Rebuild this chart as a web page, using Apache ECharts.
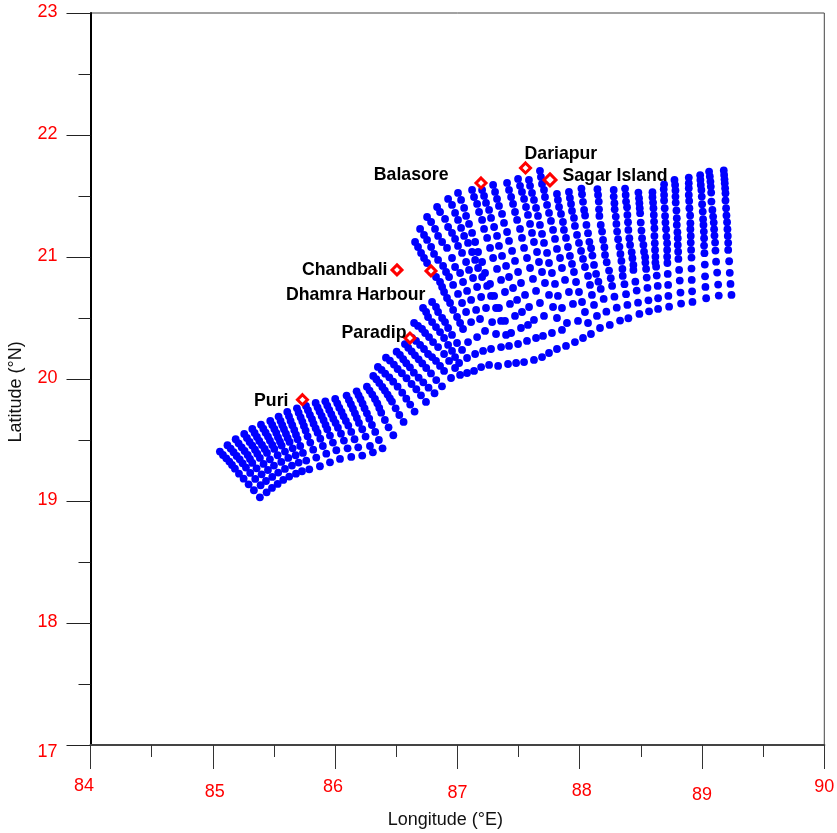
<!DOCTYPE html>
<html><head><meta charset="utf-8">
<style>html,body{margin:0;padding:0;background:#fff}#c{width:837px;height:833px}</style>
<script src="https://cdn.jsdelivr.net/npm/echarts@6/dist/echarts.min.js"></script>
</head><body><div id="c"></div>
<script>
const xTickLabels=[84,85,86,87,88,89,90];
const yTickLabels=[17,18,19,20,21,22,23];
// south-western block: each entry = [longitudes],[latitudes] of one grid column
const westColumns=[
[[85.058,85.083,85.110,85.135,85.157,85.181,85.214,85.252,85.293,85.336,85.385],[19.405,19.377,19.350,19.323,19.295,19.265,19.224,19.183,19.137,19.088,19.030]],
[[85.12,85.146,85.17,85.195,85.22,85.244,85.271,85.306,85.347,85.391,85.44],[19.457,19.43,19.40,19.369,19.342,19.309,19.274,19.23,19.181,19.129,19.071]],
[[85.187,85.211,85.236,85.26,85.285,85.304,85.323,85.358,85.399,85.435,85.484],[19.506,19.473,19.44,19.41,19.377,19.345,19.312,19.268,19.219,19.164,19.107]],
[[85.257,85.279,85.301,85.323,85.345,85.364,85.385,85.415,85.451,85.486,85.53],[19.55,19.517,19.484,19.454,19.421,19.388,19.353,19.304,19.254,19.197,19.14]],
[[85.323,85.342,85.361,85.38,85.402,85.424,85.443,85.467,85.5,85.535,85.576],[19.59,19.558,19.525,19.492,19.459,19.427,19.394,19.342,19.29,19.233,19.173]],
[[85.394,85.413,85.432,85.451,85.467,85.486,85.503,85.53,85.56,85.59,85.625],[19.626,19.593,19.56,19.528,19.495,19.459,19.427,19.375,19.32,19.263,19.2]],
[[85.47,85.486,85.503,85.519,85.533,85.549,85.563,85.59,85.617,85.647,85.68],[19.656,19.623,19.59,19.558,19.522,19.487,19.454,19.405,19.353,19.29,19.224]],
[[85.538,85.554,85.568,85.582,85.598,85.612,85.628,85.653,85.677,85.702,85.729],[19.692,19.656,19.621,19.588,19.552,19.517,19.484,19.432,19.375,19.315,19.244]],
[[85.609,85.623,85.636,85.65,85.666,85.68,85.693,85.715,85.737,85.764,85.789],[19.73,19.694,19.656,19.621,19.582,19.544,19.506,19.451,19.394,19.331,19.26]],
[[85.688,85.702,85.718,85.732,85.745,85.759,85.775,85.797,85.821,85.846,85.876],[19.76,19.724,19.686,19.651,19.615,19.577,19.53,19.479,19.421,19.356,19.285]],
[[85.762,85.778,85.794,85.811,85.824,85.841,85.857,85.879,85.9,85.928,85.958],[19.779,19.744,19.705,19.67,19.634,19.596,19.56,19.511,19.451,19.388,19.317]],
[[85.841,85.857,85.873,85.89,85.906,85.922,85.936,85.958,85.982,86.01,86.04],[19.804,19.768,19.733,19.697,19.662,19.623,19.588,19.536,19.479,19.416,19.345]],
[[85.92,85.936,85.952,85.969,85.985,86.004,86.023,86.048,86.072,86.102,86.132],[19.817,19.782,19.746,19.711,19.675,19.64,19.601,19.552,19.495,19.432,19.361]],
[[86.001,86.018,86.034,86.053,86.069,86.088,86.108,86.132,86.159,86.189,86.222],[19.836,19.801,19.765,19.73,19.694,19.656,19.618,19.566,19.506,19.44,19.372]],
[[86.094,86.113,86.129,86.146,86.162,86.178,86.195,86.222,86.249,86.285,86.309],[19.864,19.828,19.793,19.757,19.719,19.681,19.64,19.588,19.528,19.451,19.399]],
[[86.176,86.192,86.208,86.225,86.241,86.26,86.279,86.301,86.328,86.358,86.388],[19.899,19.866,19.834,19.798,19.76,19.719,19.675,19.623,19.566,19.5,19.432]]
];
// middle fan of short columns
const middleColumns=[
[[86.26,86.282,86.304,86.326,86.345,86.361,86.377,86.407,86.437,86.476],[19.937,19.905,19.872,19.836,19.801,19.763,19.724,19.664,19.604,19.539]],
[[86.312,86.337,86.361,86.386,86.407,86.429,86.448,86.465,86.495,86.525,86.56],[20.025,19.998,19.968,19.935,19.905,19.872,19.842,19.815,19.76,19.705,19.648]],
[[86.65,86.614,86.582,86.549,86.511,86.475,86.443,86.41,86.38,86.35],[19.733,19.79,19.839,19.888,19.937,19.978,20.014,20.044,20.074,20.099]],
[[86.743,86.702,86.664,86.625,86.584,86.546,86.511,86.481,86.448,86.416],[19.812,19.866,19.916,19.959,20.006,20.047,20.082,20.118,20.151,20.175]],
[[86.813,86.764,86.721,86.683,86.644,86.612,86.582,86.557,86.53,86.503],[19.883,19.929,19.973,20.011,20.052,20.096,20.129,20.162,20.197,20.224]],
[[86.571,86.598,86.626,86.653,86.683,86.713,86.745,86.784,86.827,86.874],[20.286,20.256,20.226,20.194,20.161,20.128,20.09,20.046,19.991,19.94]],
[[86.629,86.662,86.695,86.727,86.76,86.793,86.825,86.858,86.891,86.948],[20.336,20.312,20.279,20.246,20.205,20.18,20.148,20.107,20.066,20.008]],
[[86.646,86.678,86.711,86.736,86.768,86.801,86.842,86.891,86.932,86.981,87.022],[20.459,20.435,20.41,20.377,20.344,20.303,20.262,20.205,20.148,20.09,20.033]],
[[86.719,86.744,86.76,86.793,86.825,86.858,86.891,86.924,86.956,86.981,87.014,87.079],[20.582,20.549,20.508,20.467,20.426,20.385,20.336,20.279,20.23,20.18,20.131,20.049]],
[[86.793,86.825,86.842,86.875,86.899,86.924,86.956,86.997,87.038,87.079,87.136],[20.631,20.59,20.549,20.50,20.467,20.418,20.361,20.295,20.238,20.172,20.066]]
];
// northern block, long columns, west to east
const northColumns=[
[[86.654,86.678,86.703,86.727,86.752,86.785,86.825,86.858,86.875,86.891,86.915,86.94,86.965,86.997,87.022,87.046,87.087,87.145,87.194],[21.123,21.082,21.033,20.992,20.951,20.877,20.836,20.795,20.754,20.713,20.664,20.623,20.566,20.508,20.459,20.41,20.303,20.205,20.098]],
[[86.695,86.727,86.752,86.785,86.809,86.842,86.883,86.907,86.932,86.965,87.005,87.038,87.071,87.112,87.161,87.21,87.259],[21.23,21.181,21.14,21.082,21.025,20.976,20.927,20.877,20.836,20.771,20.697,20.623,20.549,20.467,20.344,20.23,20.115]],
[[86.752,86.785,86.817,86.842,86.875,86.915,86.956,86.981,87.022,87.046,87.079,87.112,87.153,87.185,87.226,87.275,87.333],[21.328,21.287,21.23,21.173,21.123,21.074,20.992,20.918,20.869,20.795,20.722,20.648,20.566,20.492,20.394,20.246,20.107]],
[[86.834,86.858,86.899,86.924,86.956,86.981,87.005,87.038,87.071,87.095,87.128,87.161,87.194,87.234,87.284,87.316,87.357,87.414],[21.41,21.369,21.312,21.246,21.197,21.148,21.091,21.033,20.959,20.894,20.828,20.754,20.672,20.582,20.467,20.369,20.262,20.123]],
[[86.924,86.956,86.981,87.005,87.03,87.055,87.087,87.12,87.145,87.169,87.202,87.243,87.275,87.316,87.357,87.398,87.422,87.48],[21.476,21.427,21.361,21.304,21.238,21.173,21.115,21.041,20.976,20.91,20.836,20.763,20.681,20.582,20.476,20.361,20.271,20.131]],
[[87.005,87.03,87.055,87.071,87.095,87.12,87.145,87.169,87.202,87.226,87.267,87.30,87.34,87.389,87.439,87.496,87.545],[21.525,21.468,21.402,21.337,21.271,21.197,21.123,21.041,20.959,20.869,20.779,20.681,20.582,20.476,20.377,20.287,20.139]],
[[87.12,87.136,87.161,87.177,87.202,87.218,87.243,87.267,87.292,87.324,87.357,87.389,87.43,87.471,87.52,87.569,87.626],[21.55,21.492,21.435,21.369,21.304,21.23,21.156,21.074,20.992,20.902,20.812,20.713,20.615,20.517,20.418,20.312,20.156]],
[[87.202,87.218,87.234,87.259,87.275,87.30,87.324,87.34,87.365,87.398,87.422,87.455,87.488,87.528,87.577,87.643,87.692],[21.55,21.501,21.443,21.386,21.32,21.246,21.173,21.091,21.009,20.927,20.836,20.746,20.648,20.549,20.443,20.336,20.18]],
[[87.292,87.308,87.324,87.34,87.365,87.381,87.406,87.422,87.447,87.471,87.496,87.52,87.553,87.586,87.626,87.70,87.749],[21.591,21.533,21.476,21.419,21.353,21.279,21.205,21.132,21.05,20.968,20.877,20.787,20.689,20.59,20.484,20.353,20.213]],
[[87.406,87.422,87.439,87.455,87.471,87.488,87.512,87.528,87.545,87.569,87.594,87.618,87.643,87.675,87.708,87.773,87.814],[21.607,21.55,21.492,21.435,21.369,21.304,21.23,21.156,21.074,20.992,20.91,20.82,20.722,20.623,20.517,20.377,20.246]],
[[87.496,87.512,87.528,87.545,87.561,87.577,87.594,87.61,87.626,87.651,87.667,87.692,87.716,87.749,87.782,87.814,87.855,87.888],[21.64,21.583,21.533,21.476,21.41,21.345,21.271,21.197,21.123,21.041,20.959,20.877,20.787,20.689,20.59,20.50,20.402,20.271]],
[[87.585,87.594,87.61,87.626,87.643,87.659,87.675,87.692,87.708,87.733,87.749,87.773,87.798,87.822,87.855,87.896,87.961],[21.632,21.583,21.525,21.468,21.402,21.337,21.263,21.189,21.115,21.033,20.951,20.869,20.779,20.681,20.582,20.459,20.303]],
[[87.675,87.683,87.692,87.708,87.716,87.733,87.749,87.765,87.782,87.798,87.814,87.839,87.855,87.88,87.912,87.945,87.986,88.027],[21.706,21.656,21.599,21.55,21.492,21.427,21.361,21.296,21.222,21.148,21.066,20.992,20.91,20.812,20.713,20.615,20.476,20.336]],
[[87.814,87.822,87.831,87.847,87.863,87.871,87.888,87.904,87.92,87.937,87.953,87.97,87.994,88.019,88.043,88.068,88.092],[21.517,21.468,21.41,21.353,21.287,21.222,21.156,21.082,21.009,20.943,20.877,20.795,20.713,20.631,20.549,20.459,20.369]],
[[87.912,87.92,87.929,87.937,87.953,87.961,87.978,87.994,88.011,88.027,88.043,88.068,88.084,88.10,88.117,88.141,88.166],[21.533,21.484,21.435,21.378,21.32,21.255,21.181,21.115,21.05,20.984,20.918,20.845,20.771,20.689,20.607,20.517,20.418]]
];
// eastern block, long columns, west to east
const eastColumns=[
[[88.014,88.019,88.027,88.036,88.044,88.055,88.068,88.079,88.093,88.104,88.117,88.134,88.153,88.172,88.196,88.218,88.246],[21.561,21.515,21.452,21.386,21.34,21.263,21.195,21.124,21.072,21.012,20.935,20.861,20.798,20.738,20.656,20.552,20.443]],
[[88.145,88.15,88.156,88.158,88.161,88.172,88.183,88.191,88.202,88.207,88.221,88.24,88.254,88.265,88.284,88.303,88.33],[21.556,21.509,21.454,21.391,21.337,21.263,21.208,21.14,21.08,21.017,20.957,20.889,20.826,20.763,20.675,20.585,20.479]],
[[88.278,88.278,88.284,88.286,88.295,88.30,88.306,88.314,88.325,88.333,88.341,88.349,88.352,88.366,88.379,88.39,88.398],[21.55,21.495,21.441,21.391,21.331,21.271,21.208,21.146,21.085,21.025,20.968,20.902,20.845,20.777,20.695,20.607,20.498]],
[[88.371,88.376,88.379,88.387,88.39,88.395,88.398,88.406,88.412,88.425,88.431,88.439,88.439,88.455,88.466,88.477,88.488],[21.561,21.509,21.454,21.408,21.345,21.285,21.222,21.154,21.099,21.039,20.99,20.935,20.894,20.798,20.725,20.626,20.533]],
[[88.48,88.485,88.488,88.491,88.494,88.499,88.505,88.51,88.521,88.526,88.535,88.537,88.543,88.548,88.554,88.562,88.567],[21.528,21.482,21.441,21.40,21.359,21.282,21.217,21.154,21.099,21.044,20.998,20.954,20.902,20.831,20.747,20.645,20.555]],
[[88.595,88.595,88.6,88.603,88.606,88.608,88.611,88.611,88.614,88.616,88.619,88.619,88.625,88.63,88.638,88.641,88.641],[21.531,21.49,21.446,21.40,21.345,21.29,21.236,21.173,21.113,21.058,21.003,20.954,20.921,20.848,20.763,20.662,20.574]],
[[88.69,88.687,88.69,88.69,88.695,88.698,88.701,88.706,88.709,88.715,88.715,88.715,88.717,88.72,88.723,88.725,88.731],[21.596,21.556,21.509,21.463,21.40,21.337,21.282,21.228,21.167,21.113,21.058,21.003,20.951,20.861,20.771,20.681,20.593]],
[[88.775,88.78,88.783,88.783,88.785,88.791,88.794,88.794,88.799,88.802,88.802,88.805,88.807,88.813,88.818,88.824,88.829],[21.632,21.591,21.545,21.495,21.446,21.381,21.318,21.263,21.203,21.154,21.099,21.044,20.984,20.894,20.807,20.708,20.618]],
[[88.892,88.892,88.892,88.892,88.895,88.897,88.903,88.905,88.905,88.908,88.908,88.911,88.914,88.914,88.916,88.919,88.922],[21.651,21.605,21.564,21.509,21.46,21.40,21.34,21.277,21.228,21.173,21.118,21.058,20.995,20.905,20.812,20.719,20.632]],
[[88.985,88.987,88.99,88.995,88.998,89.001,89.006,89.009,89.012,89.015,89.017,89.017,89.02,89.023,89.025,89.028,89.034],[21.67,21.632,21.591,21.55,21.495,21.433,21.372,21.31,21.263,21.208,21.154,21.094,21.031,20.938,20.842,20.755,20.662]],
[[89.058,89.064,89.069,89.072,89.075,89.077,89.085,89.091,89.096,89.099,89.102,89.107,89.11,89.115,89.124,89.132,89.137],[21.70,21.66,21.618,21.577,21.528,21.454,21.386,21.331,21.282,21.228,21.176,21.118,21.053,20.962,20.872,20.774,20.684]],
[[89.178,89.181,89.184,89.186,89.189,89.192,89.192,89.197,89.20,89.205,89.208,89.211,89.214,89.214,89.222,89.227,89.233,89.241],[21.709,21.673,21.637,21.605,21.564,21.523,21.463,21.40,21.34,21.285,21.228,21.173,21.116,21.058,20.965,20.87,20.779,20.689]]
];
const stationNames=["Puri","Paradip","Dhamra Harbour","Chandbali","Balasore","Dariapur","Sagar Island"];
const stationLon=[85.733,86.612,86.784,86.506,87.193,87.557,87.757];
const stationLat=[19.83,20.336,20.886,20.894,21.607,21.73,21.632];

const gridPoints=[];
[westColumns,middleColumns,northColumns,eastColumns].forEach(block=>block.forEach(c=>c[0].forEach((lon,i)=>gridPoints.push([lon,c[1][i]]))));

// label placement, styling only
const labelPlace={
 "Puri":{position:'left',offset:[-7.5,1]},
 "Paradip":{position:'left',offset:[3,-5]},
 "Dhamra Harbour":{position:'left',offset:[1,24]},
 "Chandbali":{position:'left',offset:[-3,0]},
 "Balasore":{position:'left',offset:[-26,-8]},
 "Dariapur":{position:'right',offset:[-7.5,-14]},
 "Sagar Island":{position:'right',offset:[5,-4]}
};
const xNudge={84:{pad:[1,13,0,0]},85:{pad:[7,0,0,4]},86:{pad:[2,4,0,0]},87:{pad:[8,0,0,0]},88:{pad:[6,0,0,4]},89:{pad:[10,0,0,0]},90:{pad:[2,0,0,0]}};
const red='#ff0000', font='"Liberation Sans",Arial,sans-serif';
const xRich={},yRich={};
xTickLabels.forEach(v=>{xRich['k'+v]={color:red,fontSize:18,fontFamily:font,padding:xNudge[v].pad}});
yTickLabels.forEach(v=>{yRich['k'+v]={color:red,fontSize:18,fontFamily:font,padding:v===17?[14,0,0,0]:[0,0,2,0]}});

const chart=echarts.init(document.getElementById('c'),null,{renderer:'canvas'});
chart.setOption({
 animation:false,backgroundColor:'#fff',
 grid:{left:90.5,right:12.7,top:13,bottom:88,outerBoundsMode:'none',show:true,borderColor:'#444',borderWidth:1,backgroundColor:'transparent'},
 xAxis:{type:'value',min:84,max:90,interval:1,position:'bottom',
  name:'Longitude (°E)',nameLocation:'middle',nameGap:66,
  nameTextStyle:{color:'#111',fontSize:18,fontFamily:font,padding:[0,24,0,0]},
  axisLine:{show:true,onZero:false,lineStyle:{color:'#444',width:2}},
  axisTick:{show:true,length:24,lineStyle:{color:'#333',width:1}},
  minorTick:{show:true,splitNumber:2,length:12,lineStyle:{color:'#333',width:1}},
  splitLine:{show:false},minorSplitLine:{show:false},
  axisLabel:{margin:31,verticalAlign:'top',showMinLabel:true,showMaxLabel:true,hideOverlap:false,formatter:v=>`{k${v}|${v}}`,rich:xRich}},
 yAxis:{type:'value',min:17,max:23,interval:1,
  name:'Latitude (°N)',nameLocation:'middle',nameGap:65,
  nameTextStyle:{color:'#111',fontSize:18,fontFamily:font,padding:[0,26,0,0]},
  axisLine:{show:true,onZero:false,lineStyle:{color:'#000',width:2}},
  axisTick:{show:true,length:24,lineStyle:{color:'#222',width:1}},
  minorTick:{show:true,splitNumber:2,length:12,lineStyle:{color:'#222',width:1}},
  splitLine:{show:false},minorSplitLine:{show:false},
  axisLabel:{margin:33,showMinLabel:true,showMaxLabel:true,hideOverlap:false,formatter:v=>`{k${v}|${v}}`,rich:yRich}},
 series:[
  {type:'scatter',name:'Grid',symbol:'circle',symbolSize:7.8,itemStyle:{color:'#0000ff',opacity:1},data:gridPoints,z:2,silent:true},
  {type:'scatter',name:'Stations',symbol:'diamond',z:3,silent:true,
   itemStyle:{color:'#fff',borderColor:'#ff0000',borderWidth:3,opacity:1},
   data:stationNames.map((n,i)=>({value:[stationLon[i],stationLat[i]],name:n,
     symbolSize:n==='Sagar Island'?12:10,
     label:{show:true,formatter:n,distance:0,color:'#000',fontSize:17.7,fontWeight:'bold',fontFamily:font,...labelPlace[n]}}))}
 ]
});
</script></body></html>
